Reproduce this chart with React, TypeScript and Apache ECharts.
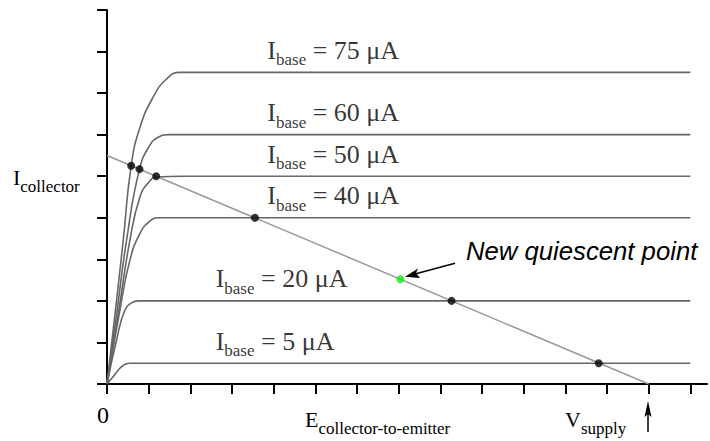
import React, { useEffect, useRef } from 'react';
import * as echarts from 'echarts';

// ---- data ----
const xTickValues = [0, 1, 2, 3, 4, 5, 6, 7, 8, 9, 10, 11, 12, 13, 14];
const yTickValues = [0, 1, 2, 3, 4, 5, 6, 7, 8, 9];
const xTickLabels = ['0'];
const baseCurrents = ['75', '60', '50', '40', '20', '5'];

const curve75 = [[0, 0], [0.2, 1.75], [0.39, 3.46], [0.58, 5.25], [0.79, 6.17], [1.1, 6.89], [1.43, 7.34], [1.75, 7.5], [2.4, 7.5], [14, 7.5]];
const curve60 = [[0, 0], [0.24, 1.75], [0.47, 3.46], [0.78, 5.17], [1.03, 5.75], [1.22, 5.93], [1.5, 6], [2.2, 6], [14, 6]];
const curve50 = [[0, 0], [0.28, 1.75], [0.55, 3.46], [0.79, 4.5], [1.0, 4.85], [1.2, 4.98], [1.8, 5], [14, 5]];
const curve40 = [[0, 0], [0.31, 1.78], [0.55, 2.98], [0.79, 3.62], [1.03, 3.92], [1.25, 4], [1.9, 4], [14, 4]];
const curve20 = [[0, 0], [0.23, 1.06], [0.43, 1.78], [0.6, 1.96], [0.75, 2], [1.3, 2], [14, 2]];
const curve5 = [[0, 0], [0.15, 0.18], [0.31, 0.38], [0.45, 0.48], [0.55, 0.5], [1.0, 0.5], [14, 0.5]];
const curves = [curve75, curve60, curve50, curve40, curve20, curve5];

const loadLine = [[0, 5.5], [13, 0]];
const operatingPoints = [[0.58, 5.25], [0.78, 5.17], [1.18, 5.0], [3.55, 4.0], [8.27, 2.0], [11.8, 0.5]];
const quiescentPoint = [7.04, 2.52];

// ---- layout / style ----
const SERIF = '"Liberation Serif", "Times New Roman", serif';
const SANS = '"Liberation Sans", Arial, sans-serif';
const labelX = [3.86, 3.86, 3.86, 3.86, 2.62, 2.62];

const rich = (main: number, sub: number, pad: number) => ({
  m: { fontSize: main, fontFamily: SERIF, color: '#000' },
  s: { fontSize: sub, fontFamily: SERIF, color: '#000', padding: [pad, 0, 0, 0] },
});

export default function App() {
  const ref = useRef<HTMLDivElement>(null);
  useEffect(() => {
    if (!ref.current) return;
    const chart = echarts.init(ref.current, null, { renderer: 'svg' });
    const option: any = {
      animation: false,
      backgroundColor: '#fff',
      grid: { left: 107, top: 10, right: 3, bottom: 57 },
      xAxis: {
        type: 'value',
        min: 0,
        max: 14.4,
        interval: 1,
        splitLine: { show: false },
        axisLine: { onZero: false, lineStyle: { color: '#000', width: 2 } },
        axisTick: { show: true, length: 10, lineStyle: { color: '#000', width: 2 }, customValues: xTickValues },
        axisLabel: {
          customValues: [0],
          formatter: (v: number) => xTickLabels[v] ?? '',
          fontSize: 24,
          fontFamily: SERIF,
          color: '#000',
          margin: 19,
          padding: [0, 8, 0, 0],
        },
      },
      yAxis: {
        type: 'value',
        min: 0,
        max: 9,
        interval: 1,
        splitLine: { show: false },
        axisLine: { show: true, onZero: false, lineStyle: { color: '#000', width: 2 } },
        axisTick: { show: true, length: 10, lineStyle: { color: '#000', width: 2 }, customValues: yTickValues },
        axisLabel: { show: false },
      },
      series: [
        ...curves.map((c) => ({
          type: 'line',
          data: c,
          smooth: 0.5,
          symbol: 'none',
          lineStyle: { color: '#666', width: 1.6 },
          z: 2,
          silent: true,
        })),
        {
          type: 'line',
          data: loadLine,
          symbol: 'none',
          lineStyle: { color: '#999', width: 1.5 },
          z: 3,
          silent: true,
        },
        {
          type: 'scatter',
          data: operatingPoints,
          symbolSize: 8,
          itemStyle: { color: '#000' },
          z: 4,
          silent: true,
        },
        {
          type: 'scatter',
          data: [quiescentPoint],
          symbolSize: 8,
          itemStyle: { color: '#11ee11' },
          z: 5,
          silent: true,
        },
        {
          type: 'scatter',
          symbolSize: 1,
          itemStyle: { color: 'transparent' },
          z: 6,
          silent: true,
          data: curves.map((c, i) => ({
            value: [labelX[i], c[c.length - 1][1]],
            label: {
              show: true,
              position: [0, 0],
              align: 'left',
              verticalAlign: 'bottom',
              offset: [0, -3.6],
              formatter: `{m|I}{s|base}{m| = ${baseCurrents[i]} \u03bcA}`,
              rich: rich(26, 17, 19),
            },
          })),
        },
      ],
      graphic: [
        {
          type: 'text',
          x: 13,
          y: 160,
          style: { text: '{m|I}{s|collector}', rich: rich(22, 17, 18), align: 'left', verticalAlign: 'top' },
        },
        {
          type: 'text',
          x: 305,
          y: 402,
          style: { text: '{m|E}{s|collector-to-emitter}', rich: rich(22, 17, 18), align: 'left', verticalAlign: 'top' },
        },
        {
          type: 'text',
          x: 565,
          y: 402,
          style: { text: '{m|V}{s|supply}', rich: rich(22, 17, 18), align: 'left', verticalAlign: 'top' },
        },
        {
          type: 'text',
          x: 466,
          y: 251,
          style: {
            text: 'New quiescent point',
            font: `italic 25.7px ${SANS}`,
            fill: '#000',
            align: 'left',
            verticalAlign: 'middle',
          },
        },
        {
          type: 'line',
          shape: { x1: 455, y1: 263.3, x2: 415, y2: 274 },
          style: { stroke: '#000', lineWidth: 1.5 },
        },
        {
          type: 'polygon',
          shape: { points: [[405, 276.7], [420, 278], [416, 273], [418, 268.5]] },
          style: { fill: '#000' },
        },
        {
          type: 'line',
          shape: { x1: 648, y1: 432, x2: 648, y2: 410 },
          style: { stroke: '#000', lineWidth: 1.5 },
        },
        {
          type: 'polygon',
          shape: { points: [[648, 401], [651.5, 417], [648, 414], [644.5, 417]] },
          style: { fill: '#000' },
        },
      ],
    };
    chart.setOption(option);
    return () => chart.dispose();
  }, []);
  return (
    <div
      ref={ref}
      style={{ position: 'absolute', left: 0, top: 0, width: 710, height: 441, background: '#fff' }}
    />
  );
}
